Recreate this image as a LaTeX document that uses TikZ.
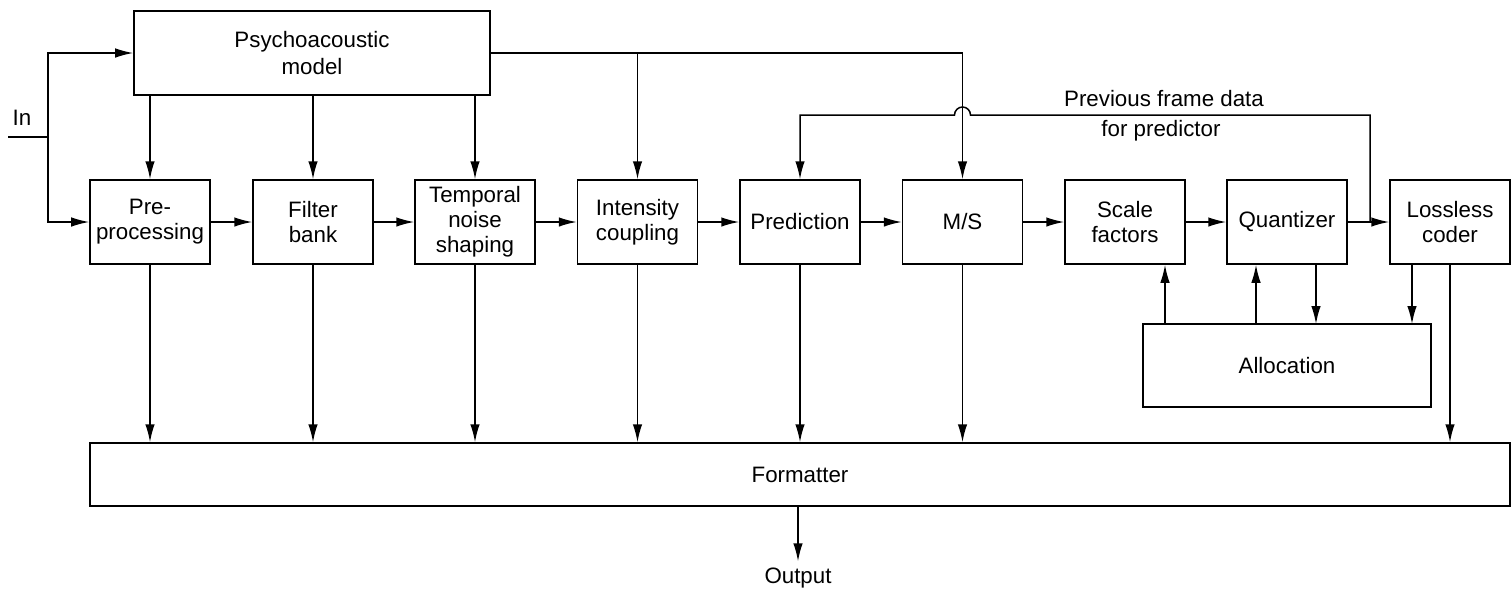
\documentclass[tikz,border=0pt]{standalone}
\usepackage{fontspec}
\setmainfont{Liberation Sans}
\usetikzlibrary{arrows.meta}
\begin{document}
\begin{tikzpicture}[x=0.2mm, y=-0.2mm, >={Latex[length=3.6mm,width=1.9mm]}, line width=0.3mm, font=\fontsize{12.7}{14.2}\selectfont]
    \tikzstyle{block_style} = [draw, rectangle, minimum width=24mm, minimum height=16.8mm, align=center, inner sep=1pt]
    \tikzstyle{edge_style} = [draw, ->]
    \useasboundingbox (0,0) rectangle (1511,589);

    \node[block_style, minimum width=71.2mm] (psy) at (312,53) {Psychoacoustic\\[1.3pt]model};
    \node[block_style] (pre) at (150,222) {Pre-\\processing};
    \node[block_style] (fb) at (313,222) {Filter\\bank};
    \node[block_style] (tns) at (475,222) {Temporal\\noise\\shaping};
    \node[block_style] (ic) at (637.5,222) {Intensity\\coupling};
    \node[block_style] (pred) at (800,222) {Prediction};
    \node[block_style] (ms) at (962.5,222) {M/S};
    \node[block_style] (sf) at (1125,222) {Scale\\factors};
    \node[block_style] (quant) at (1287,222) {Quantizer};
    \node[block_style] (lc) at (1450,222) {Lossless\\coder};
    \node[block_style, minimum width=57.6mm, minimum height=16.6mm] (alloc) at (1287,365.5) {Allocation};
    \node[block_style, minimum width=284mm, minimum height=12.6mm] (fmt) at (800,474.5) {Formatter};

    \node (inlabel) at (22,118) {In};
    \node (out) at (798,578) {Output};
    \node (prev1) at (1164,99) {Previous frame data};
    \node (prev2) at (1161,131) {for predictor};

    \coordinate (in) at (8,137);
    \coordinate (split) at (48,137);
    \coordinate (tap) at (1370,222);
    \coordinate (hop) at (962.5,115);
    \coordinate (al1) at (1165,324);
    \coordinate (al2) at (1256,324);
    \coordinate (al3) at (1316,324);
    \coordinate (al4) at (1412,324);

    % input splits to the model and the first block
    \draw (in) -- (split);
    \draw[edge_style] (split) |- (psy.west);
    \draw[edge_style] (split) |- (pre.west);

    % psychoacoustic model outputs
    \draw[edge_style] (pre.north |- psy.south) -- (pre.north);
    \draw[edge_style] (fb.north |- psy.south) -- (fb.north);
    \draw[edge_style] (tns.north |- psy.south) -- (tns.north);
    \draw[edge_style] (psy.east) -| (ms.north);
    \draw[edge_style] (psy.east -| ic.north) -- (ic.north);

    % main chain
    \draw[edge_style] (pre) -- (fb);
    \draw[edge_style] (fb) -- (tns);
    \draw[edge_style] (tns) -- (ic);
    \draw[edge_style] (ic) -- (pred);
    \draw[edge_style] (pred) -- (ms);
    \draw[edge_style] (ms) -- (sf);
    \draw[edge_style] (sf) -- (quant);
    \draw[edge_style] (quant) -- (lc);

    % feedback to the predictor, hopping over the M/S line
    \draw[edge_style] (tap) |- ([xshift=1.6mm]hop) arc[start angle=0, end angle=180, radius=1.6mm] -| (pred.north);

    % allocation loop
    \draw[edge_style] (al1) -- (al1 |- sf.south);
    \draw[edge_style] (al2) -- (al2 |- quant.south);
    \draw[edge_style] (al3 |- quant.south) -- (al3);
    \draw[edge_style] (al4 |- lc.south) -- (al4);

    % everything goes to the formatter
    \foreach \b in {pre,fb,tns,ic,pred,ms,lc}
        \draw[edge_style] (\b.south) -- (\b.south |- fmt.north);
    \draw[edge_style] (out.north |- fmt.south) -- (out.north);
\end{tikzpicture}
\end{document}
